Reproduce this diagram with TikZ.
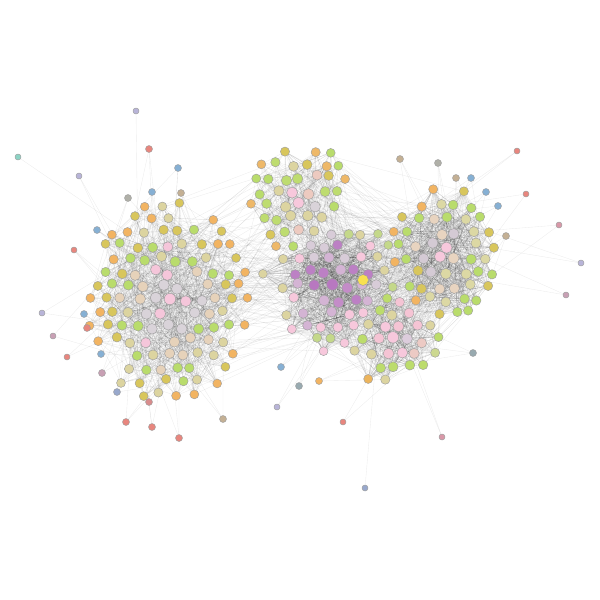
\documentclass[tikz,border=0pt]{standalone}
\usetikzlibrary{backgrounds}
% cluster palettes (inner -> outer)
\definecolor{cL0}{HTML}{F7C8DC}\definecolor{cL1}{HTML}{D9D3D9}\definecolor{cL2}{HTML}{F5C6DA}
\definecolor{cL3}{HTML}{E6D2BA}\definecolor{cL4}{HTML}{B9DC6C}\definecolor{cL5}{HTML}{DCD4A0}
\definecolor{cL6}{HTML}{D8C65C}\definecolor{cL7}{HTML}{F2B462}
\definecolor{cT0}{HTML}{F7C8DC}\definecolor{cT1}{HTML}{D9D3D9}\definecolor{cT2}{HTML}{EDCAC0}
\definecolor{cT3}{HTML}{DCD4A0}\definecolor{cT4}{HTML}{BEDC70}\definecolor{cT5}{HTML}{D8C65C}
\definecolor{cT6}{HTML}{B9DC6C}\definecolor{cT7}{HTML}{EEB868}
\definecolor{cC0}{HTML}{B878C0}\definecolor{cC1}{HTML}{C48CC8}\definecolor{cC2}{HTML}{BC80C4}
\definecolor{cC3}{HTML}{D4B4D4}\definecolor{cC4}{HTML}{D8CCD8}\definecolor{cC5}{HTML}{F7C8DC}
\definecolor{cC6}{HTML}{DCD4A0}\definecolor{cC7}{HTML}{C4D88A}
\definecolor{cR0}{HTML}{F7C8DC}\definecolor{cR1}{HTML}{D4CAD4}\definecolor{cR2}{HTML}{E8D4C0}
\definecolor{cR3}{HTML}{DCD8A4}\definecolor{cR4}{HTML}{B9DC6C}\definecolor{cR5}{HTML}{D8C65C}
\definecolor{cR6}{HTML}{B9DC6C}\definecolor{cR7}{HTML}{F2B462}
\definecolor{cM0}{HTML}{F7C8DC}\definecolor{cM1}{HTML}{DCCCDC}\definecolor{cM2}{HTML}{ECCAC4}
\definecolor{cM3}{HTML}{F5C4D4}\definecolor{cM4}{HTML}{DCD4A0}\definecolor{cM5}{HTML}{BCDC6C}
\definecolor{cM6}{HTML}{CCD890}\definecolor{cM7}{HTML}{ECB45C}
% peripheral colours
\definecolor{pTeal}{HTML}{8CD3C4}\definecolor{pLav}{HTML}{B8B4D8}\definecolor{pRed}{HTML}{E8867E}
\definecolor{pBlue}{HTML}{86B0D4}\definecolor{pMauve}{HTML}{C8A0B4}\definecolor{pBlueLav}{HTML}{98A8CC}
\definecolor{pTan}{HTML}{C4B094}\definecolor{pGray}{HTML}{B0B0A8}\definecolor{pPinkRed}{HTML}{D898A8}
\definecolor{pRedMauve}{HTML}{D88C8C}\definecolor{pBlueGray}{HTML}{98AAB0}\definecolor{pOrange}{HTML}{F2B462}
\definecolor{pYellow}{HTML}{F8E050}
\tikzset{
  vtx/.style={circle,draw=black!38,line width=0.45pt,inner sep=0pt},
  edgeln/.style={draw=black,draw opacity=0.075,line width=0.35pt}
}
\newcount\cntL \newcount\cntT \newcount\cntC \newcount\cntR \newcount\cntM
\newcommand{\linkset}[5]{%
  \foreach \k in {1,...,#5}{%
    \pgfmathtruncatemacro\ea{random(1,#2)}%
    \pgfmathtruncatemacro\eb{random(1,#4)}%
    \edef\na{#1\ea}\edef\nb{#3\eb}%
    \ifx\na\nb\else\draw[edgeln] (\na) -- (\nb);\fi
  }}
\def\plist{18/157/pTeal/6/L/1, 136/111/pLav/6/L/1, 79/176/pLav/6/L/2, 149/149/pRed/7/L/3,
 178/168/pBlue/7/L/3, 74/250/pRed/6/L/3, 97/230/pBlue/7/L/4, 42/313/pLav/6/L/2,
 84/314/pBlue/7/L/4, 87/328/pRed/7/L/3, 53/336/pMauve/6/L/2, 67/357/pRed/6/L/2,
 101/354/pBlue/7/L/3, 102/373/pMauve/7/L/3, 117/392/pBlueLav/7/L/3, 126/422/pRed/7/L/3,
 152/427/pRed/7/L/3, 179/438/pRed/7/L/3, 223/419/pTan/7/L/3, 149/402/pRedMauve/7/L/3,
 400/159/pTan/7/R/3, 438/163/pGray/7/R/3, 456/178/pTan/7/R/3, 471/178/pBlue/7/R/3,
 486/192/pBlue/7/R/3, 517/151/pRed/6/R/2, 526/194/pRed/6/R/2, 498/206/pBlue/7/R/3,
 559/225/pPinkRed/6/R/2, 506/236/pTan/7/R/3, 581/263/pLav/6/R/2, 566/295/pMauve/6/R/2,
 473/353/pBlueGray/7/M/3, 365/488/pBlueLav/6/M/1, 442/437/pPinkRed/6/M/2, 343/422/pRed/6/M/2,
 277/407/pLav/6/C/2, 299/386/pBlueGray/7/C/3, 281/367/pBlue/7/C/3, 319/381/pOrange/7/M/3,
 128/198/pGray/7/L/3, 152/192/pBlue/7/L/3, 181/193/pTan/7/L/3, 363/280/pYellow/11/C/6}
\begin{document}
\begin{tikzpicture}[x=1pt,y=-1pt]
\pgfmathsetseed{777}
\begin{pgfonlayer}{background}
  \fill[white] (0,0) rectangle (600,600);
\end{pgfonlayer}
% cluster nodes on a jittered hexagonal grid
\foreach \gy in {0,...,24}{
 \foreach \gx in {0,...,30}{
  \pgfmathsetmacro\px{68+15.5*\gx+7.75*mod(\gy,2)+6*(rnd-0.5)}
  \pgfmathsetmacro\py{124+13.5*\gy+6*(rnd-0.5)}
  \pgfmathsetmacro\dL{sqrt(((\px-168)/76)^2+((\py-303)/95)^2)}
  \pgfmathsetmacro\dT{sqrt(((\px-300)/48)^2+((\py-200)/56)^2)}
  \pgfmathsetmacro\dC{sqrt(((\px-333)/66)^2+((\py-284)/64)^2)}
  \pgfmathsetmacro\dR{sqrt(((\px-446)/56)^2+((\py-255)/72)^2)}
  \pgfmathsetmacro\dM{sqrt(((\px-393)/48)^2+((\py-338)/50)^2)}
  \def\best{L}\let\bd\dL
  \ifdim\dT pt<\bd pt\def\best{T}\let\bd\dT\fi
  \ifdim\dC pt<\bd pt\def\best{C}\let\bd\dC\fi
  \ifdim\dR pt<\bd pt\def\best{R}\let\bd\dR\fi
  \ifdim\dM pt<\bd pt\def\best{M}\let\bd\dM\fi
  \pgfmathsetmacro\keep{rnd}
  \ifdim\bd pt<0.85pt\relax\def\thr{0.93}\else\def\thr{0.55}\fi
  \ifdim\bd pt<1.08pt\relax\ifdim\keep pt<\thr pt\relax
    \expandafter\global\expandafter\advance\csname cnt\best\endcsname by 1
    \pgfmathtruncatemacro\ci{max(0,min(7,\bd*7+3.5*(rnd-0.5)))}
    \pgfmathsetmacro\sz{11.5-2.5*\bd}
    \edef\nm{\best\the\csname cnt\best\endcsname}
    \node[vtx,fill=c\best\ci,minimum size=\sz pt] (\nm) at (\px,\py) {};
  \fi\fi
 }}
% peripheral nodes
\foreach \x/\y/\c/\s/\cl/\ne [count=\j] in \plist{
  \node[vtx,fill=\c,minimum size=\s pt] (P\j) at (\x,\y) {};
}
% connectors
\begin{pgfonlayer}{background}
  \linkset{L}{\the\cntL}{L}{\the\cntL}{850}
  \linkset{T}{\the\cntT}{T}{\the\cntT}{240}
  \linkset{C}{\the\cntC}{C}{\the\cntC}{800}
  \linkset{R}{\the\cntR}{R}{\the\cntR}{700}
  \linkset{M}{\the\cntM}{M}{\the\cntM}{340}
  \linkset{L}{\the\cntL}{C}{\the\cntC}{110}
  \linkset{L}{\the\cntL}{T}{\the\cntT}{40}
  \linkset{T}{\the\cntT}{C}{\the\cntC}{150}
  \linkset{C}{\the\cntC}{R}{\the\cntR}{180}
  \linkset{C}{\the\cntC}{M}{\the\cntM}{180}
  \linkset{R}{\the\cntR}{M}{\the\cntM}{140}
  \linkset{T}{\the\cntT}{R}{\the\cntR}{50}
  \foreach \x/\y/\c/\s/\cl/\ne [count=\j] in \plist{
    \foreach \q in {1,...,\ne}{
      \pgfmathtruncatemacro\ea{random(1,\the\csname cnt\cl\endcsname)}
      \draw[edgeln] (P\j) -- (\cl\ea);
    }
  }
\end{pgfonlayer}
\end{tikzpicture}
\end{document}
